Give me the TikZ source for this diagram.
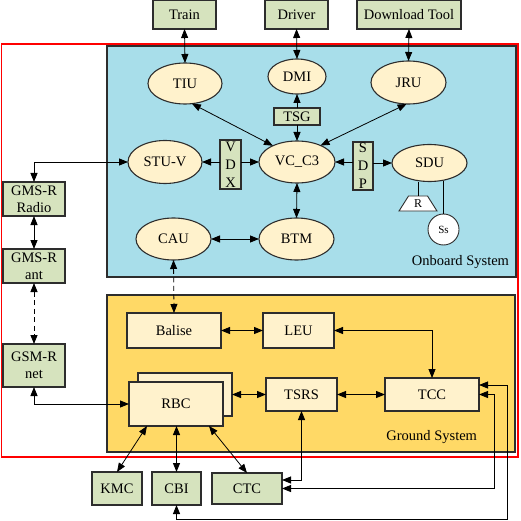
\documentclass[tikz,border=0pt]{standalone}
\usepackage{fontspec}
\setmainfont{Liberation Serif}
\usetikzlibrary{arrows.meta,shapes.geometric,calc}
\definecolor{obblue}{RGB}{168,222,234}
\definecolor{gryellow}{RGB}{255,217,102}
\definecolor{boxgreen}{RGB}{214,227,190}
\definecolor{cream}{RGB}{255,242,204}
\definecolor{edge}{RGB}{45,45,45}
\begin{document}
\begin{tikzpicture}[x=1pt,y=-1pt,
  every node/.style={font=\fontsize{14.5}{17}\selectfont, inner sep=0pt, outer sep=0pt},
  gbox/.style={draw=edge, line width=1.1pt, fill=boxgreen, align=center},
  ell/.style={ellipse, draw=edge, line width=1.1pt, fill=cream},
  cbox/.style={draw=edge, line width=1.1pt, fill=cream},
  sysbox/.style={draw=edge, line width=1.2pt},
  tip/.tip={Triangle[length=9pt,width=7pt]},
  dbl/.style={{tip}-{tip}, line width=0.8pt},
  sgl/.style={-{tip}, line width=0.8pt},
  dsh/.style={dash pattern=on 5pt off 3.5pt},
  plain/.style={line width=0.8pt},
  vert/.style={font=\fontsize{14.5}{18}\selectfont},
]
\useasboundingbox (0,0) rectangle (520,521);

% system frames
\node[draw=red, line width=1.4pt, minimum width=516.5pt, minimum height=413pt] (frame) at (259.75,250.5) {};
\node[sysbox, fill=obblue, minimum width=409pt, minimum height=231pt] (onboard) at (311.5,161.5) {};
\node[sysbox, fill=gryellow, minimum width=408pt, minimum height=157pt] (ground) at (311,373.5) {};
\node[anchor=east] (oblabel) at (509,262) {Onboard System};
\node[anchor=east] (grlabel) at (477,437) {Ground System};

% top boxes
\node[gbox, minimum width=63pt, minimum height=29pt] (train) at (184.5,14.5) {Train};
\node[gbox, minimum width=63pt, minimum height=29pt] (driver) at (296.5,14.5) {Driver};
\node[gbox, minimum width=104pt, minimum height=29pt] (dl) at (409,14.5) {Download Tool};

% onboard
\node[ell, minimum width=74pt, minimum height=41pt] (tiu) at (185,83.5) {TIU};
\node[ell, minimum width=58pt, minimum height=35pt] (dmi) at (297,76.5) {DMI};
\node[ell, minimum width=75pt, minimum height=43pt] (jru) at (408.5,82.5) {JRU};
\node[gbox, minimum width=46pt, minimum height=17pt] (tsg) at (297,116.5) {TSG};
\node[ell, minimum width=74pt, minimum height=43pt] (stu) at (165,162) {STU-V};
\node[gbox, vert, minimum width=21pt, minimum height=49pt] (vdx) at (230.5,164.5) {V\\D\\X};
\node[ell, minimum width=76pt, minimum height=42pt] (vc) at (297,162) {VC\_C3};
\node[gbox, vert, minimum width=20pt, minimum height=48pt] (sdp) at (363,166) {S\\D\\P};
\node[ell, minimum width=75pt, minimum height=37pt] (sdu) at (429.5,163) {SDU};
\node[trapezium, trapezium stretches=true, trapezium angle=63, draw=edge, line width=0.9pt, fill=white, minimum width=38pt, minimum height=15pt, font=\fontsize{12}{14}\selectfont] (r) at (418,203.5) {R};
\node[circle, draw=edge, line width=0.9pt, fill=white, minimum size=31pt, font=\fontsize{11}{13}\selectfont] (ss) at (443.5,229.5) {Ss};
\node[ell, minimum width=75pt, minimum height=42pt] (cau) at (173.5,239) {CAU};
\node[ell, minimum width=75pt, minimum height=42pt] (btm) at (296.5,239) {BTM};

% left column
\node[gbox, minimum width=62pt, minimum height=34pt] (radio) at (34,199) {GMS-R\\Radio};
\node[gbox, minimum width=62pt, minimum height=34pt] (ant) at (34,266) {GMS-R\\ant};
\node[gbox, minimum width=62pt, minimum height=43pt] (net) at (34,365.5) {GSM-R\\net};

% ground
\node[cbox, minimum width=94pt, minimum height=35pt] (balise) at (174,330.5) {Balise};
\node[cbox, minimum width=71pt, minimum height=35pt] (leu) at (298.5,330.5) {LEU};
\node[cbox, minimum width=94pt, minimum height=43pt] (rbcb) at (185,394.5) {};
\node[cbox, minimum width=94pt, minimum height=44pt] (rbc) at (176,404) {RBC};
\node[cbox, minimum width=71pt, minimum height=33pt] (tsrs) at (301.5,394.5) {TSRS};
\node[cbox, minimum width=94pt, minimum height=33pt] (tcc) at (432,394.5) {TCC};

% bottom boxes
\node[gbox, minimum width=50pt, minimum height=33pt] (kmc) at (117,488.5) {KMC};
\node[gbox, minimum width=49pt, minimum height=33pt] (cbi) at (176.5,488.5) {CBI};
\node[gbox, minimum width=70pt, minimum height=31pt] (ctc) at (247,488.5) {CTC};
\coordinate (cbiturn) at (507,519);

% connectors top
\draw[dbl] (train.south) -- (tiu.north);
\draw[dbl] (driver.south) -- (dmi.north);
\draw[dbl] (dl.south) -- (jru.north);
\draw[sgl] (tsg.north) -- (dmi.south);
\draw[sgl] (tsg.south) -- (vc.north);
\draw[dbl] (tiu.-71) -- (vc.146);
\draw[dbl] (jru.265) -- (vc.35);
\draw[sgl] (vdx.west |- stu.east) -- (stu.east);
\draw[sgl] (vdx.east |- vc.west) -- (vc.west);
\draw[sgl] (sdp.west |- vc.east) -- (vc.east);
\draw[sgl] (sdp.east |- sdu.west) -- (sdu.west);
\draw[plain] (r.north) -- ++(0,-14.4);
\draw[plain] (ss.north) -- ++(0,-32.7);
\draw[dbl] (vc.south) -- (btm.north);
\draw[dbl] (cau.east) -- (btm.west);

% left column
\draw[dbl] (stu.west) -| (radio.north);
\draw[dbl] (radio.south) -- (ant.north);
\draw[dbl, dsh] (ant.south) -- (net.north);
\draw[dbl] (net.south) |- (rbc.west);

% onboard - ground
\draw[dbl, dsh] (cau.south) -- (balise.north);

% ground
\draw[dbl] (balise.east) -- (leu.west);
\draw[dbl] (leu.east) -| (tcc.north);
\draw[dbl] (rbcb.east) -- (tsrs.west);
\draw[dbl] (tsrs.east) -- (tcc.west);

% to bottom boxes
\draw[dbl] ([xshift=-29pt]rbc.south) -- (kmc.north);
\draw[dbl] (rbc.south -| cbi.north) -- (cbi.north);
\draw[dbl] ([xshift=33pt]rbc.south) -- (ctc.north);
\draw[dbl] (tsrs.south) |- ([yshift=8.5pt]ctc.east);
\draw[dbl] (tcc.east) -- ++(15,0) |- (ctc.east);
\draw[dbl] ([yshift=9.5pt]tcc.east) -| (cbiturn) -| (cbi.south);
\end{tikzpicture}
\end{document}
